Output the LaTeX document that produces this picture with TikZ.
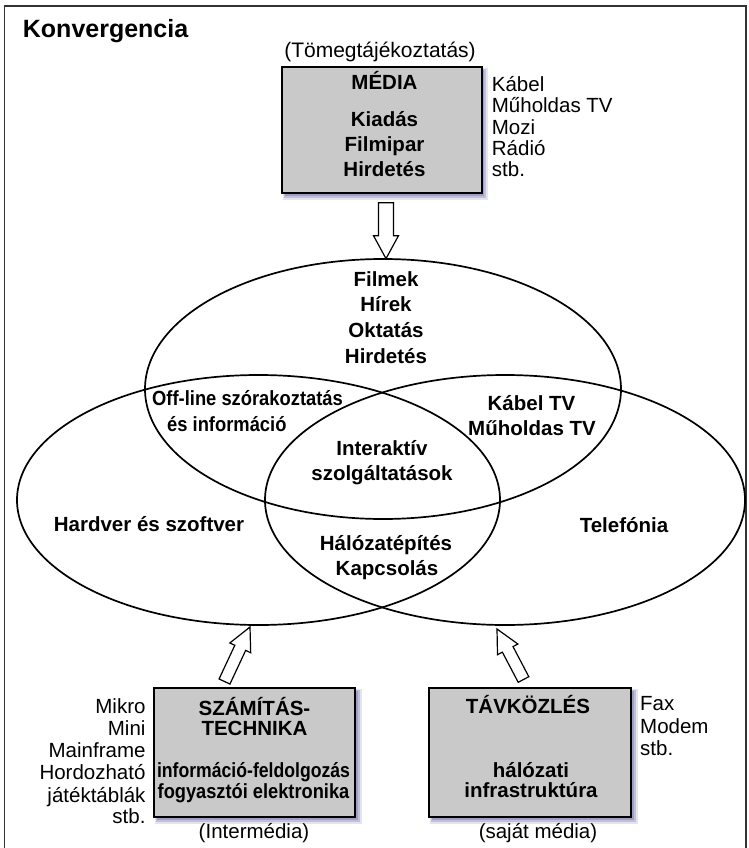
\documentclass[tikz,border=0pt]{standalone}
\usepackage{fontspec}
\usepackage{graphicx}
\setmainfont{Liberation Sans}
\usetikzlibrary{calc,shapes.geometric}
\definecolor{boxgray}{HTML}{C9C9C9}
\definecolor{shadowcol}{RGB}{110,110,170}
\definecolor{framecol}{HTML}{333333}
\newcommand{\blockarrow}[5]{%
  \path ($(#2)!#5!(#1)$) coordinate (ab);
  \draw[hollowarrow] ($(#1)!#3!90:(#2)$) -- ($(ab)!#3!90:(#2)$) -- ($(ab)!#4!90:(#2)$) -- (#2)
    -- ($(ab)!#4!-90:(#2)$) -- ($(ab)!#3!-90:(#2)$) -- ($(#1)!#3!-90:(#2)$) -- cycle;
}
\newcommand{\shadowbox}[4]{%
  \fill[shadowcol, opacity=0.18] ($(#1)+(1,1)$) rectangle ($(#2)+(6.5,6.5)$);
  \fill[shadowcol, opacity=0.30] ($(#1)+(2,2)$) rectangle ($(#2)+(4.5,4.5)$);
  \fill[shadowcol, opacity=0.40] ($(#1)+(3,3)$) rectangle ($(#2)+(2.5,2.5)$);
}
\tikzset{
  bt/.style={font=\bfseries\fontsize{20.5}{24}\selectfont, inner sep=0pt, anchor=base},
  rt/.style={font=\fontsize{20.5}{24}\selectfont, inner sep=0pt, anchor=base},
  graybox/.style={draw=black, line width=2pt, fill=boxgray, inner sep=0pt},
  ell/.style={draw=black, line width=1.7pt, ellipse, inner sep=0pt},
  hollowarrow/.style={draw=black, line width=1.2pt, fill=white, line join=miter},
  framestyle/.style={draw=framecol, line width=1.4pt},
}
\begin{document}
\begin{tikzpicture}[x=1pt,y=-1pt]
\useasboundingbox (0,0) rectangle (748,848);
\fill[white] (0,0) rectangle (748,848);
\draw[framestyle] (4.3,6) rectangle (746,860);

\node[bt, anchor=base west, font=\bfseries\fontsize{25}{30}\selectfont] (title) at (22.7,37.3) {Konvergencia};

% ellipses
\node[ell, minimum width=476pt, minimum height=260pt] (etop) at (383,389) {};
\node[ell, minimum width=483pt, minimum height=250pt] (eleft) at (258.5,500) {};
\node[ell, minimum width=480pt, minimum height=250pt] (eright) at (505,500) {};

% shadows
\coordinate (m1) at (281.7,66.7); \coordinate (m2) at (481.7,193.3);
\coordinate (s1) at (154,688); \coordinate (s2) at (355,817);
\coordinate (t1) at (429,688); \coordinate (t2) at (631,817);
\shadowbox{m1}{m2}{}{}
\shadowbox{s1}{s2}{}{}
\shadowbox{t1}{t2}{}{}

% boxes
\node[graybox, minimum width=200pt, minimum height=126.6pt] (media) at (381.7,130) {};
\node[graybox, minimum width=201pt, minimum height=129pt] (szt) at (254.5,752.5) {};
\node[graybox, minimum width=202pt, minimum height=129pt] (tav) at (530,752.5) {};

% top box texts
\node[rt, font=\fontsize{21}{24}\selectfont] (tomeg) at (380,58) {(Tömegtájékoztatás)};
\node[bt] (mediat) at (384.5,90) {MÉDIA};
\node[bt] (kiadas) at (384.5,126) {Kiadás};
\node[bt] (filmipar) at (384.5,151) {Filmipar};
\node[bt] (hirdet1) at (384.5,176.7) {Hirdetés};

\node[rt, anchor=base west] (kabel) at (491.7,91.7) {Kábel};
\node[rt, anchor=base west] (muhold) at (491.7,113) {Műholdas TV};
\node[rt, anchor=base west] (mozi) at (491.7,134.3) {Mozi};
\node[rt, anchor=base west] (radio) at (491.7,155.6) {Rádió};
\node[rt, anchor=base west] (stb1) at (491.7,176.9) {stb.};

% ellipse texts
\node[bt] (filmek) at (386,286) {Filmek};
\node[bt] (hirek) at (386,311.7) {Hírek};
\node[bt] (oktatas) at (386,337.5) {Oktatás};
\node[bt] (hirdet2) at (386,363) {Hirdetés};

\node[bt, anchor=base west] (offline) at (152,405.7) {\scalebox{0.895}[1]{Off-line szórakoztatás}};
\node[bt, anchor=base west] (esinfo) at (167,431) {\scalebox{0.895}[1]{és információ}};

\node[bt] (kabeltv) at (531.5,410) {Kábel TV};
\node[bt] (muholdtv) at (532,435) {Műholdas TV};

\node[bt] (interakt) at (382,455) {Interaktív};
\node[bt] (szolg) at (382,480) {szolgáltatások};

\node[bt] (hardver) at (149,531) {Hardver és szoftver};
\node[bt] (telef) at (624,532.7) {Telefónia};

\node[bt] (halozat) at (386,550) {Hálózatépítés};
\node[bt] (kapcs) at (387,575) {Kapcsolás};

% bottom left box
\node[bt] (szamit) at (254.5,715) {SZÁMÍTÁS-};
\node[bt] (techn) at (254.5,735) {TECHNIKA};
\node[bt] (infofeld) at (253.5,777) {\scalebox{0.86}[1]{információ-feldolgozás}};
\node[bt] (fogyaszt) at (253.5,798) {\scalebox{0.89}[1]{fogyasztói elektronika}};
\node[rt] (intermed) at (254,838) {(Intermédia)};

\node[rt, anchor=base east] (mikro) at (145.7,713) {Mikro};
\node[rt, anchor=base east] (mini) at (145.7,735) {Mini};
\node[rt, anchor=base east] (mainfr) at (145.7,757) {Mainframe};
\node[rt, anchor=base east] (hordoz) at (145.7,779) {Hordozható};
\node[rt, anchor=base east] (jatek) at (145.7,802) {játéktáblák};
\node[rt, anchor=base east] (stb2) at (145.7,823) {stb.};

% bottom right box
\node[bt] (tavk) at (528,713) {TÁVKÖZLÉS};
\node[bt] (halozati) at (531,777) {hálózati};
\node[bt] (infra) at (531,797) {infrastruktúra};
\node[rt] (sajat) at (538,838) {(saját média)};

\node[rt, anchor=base west] (fax) at (640,710) {Fax};
\node[rt, anchor=base west] (modem) at (640,733) {Modem};
\node[rt, anchor=base west] (stb3) at (640,755) {stb.};

% arrows
\coordinate (a1tail) at ($(media.south)+(4.3,8.5)$);
\coordinate (a1tip) at ($(etop.north)+(3,0.5)$);
\blockarrow{a1tail}{a1tip}{7.5pt}{12.5pt}{23pt}
\coordinate (a2tail) at (224.5,681.5);
\coordinate (a2tip) at (250,627);
\blockarrow{a2tail}{a2tip}{6pt}{11.5pt}{23pt}
\coordinate (a3tail) at (523.5,679.5);
\coordinate (a3tip) at (497,629);
\blockarrow{a3tail}{a3tip}{6pt}{11.5pt}{23pt}
\end{tikzpicture}
\end{document}
